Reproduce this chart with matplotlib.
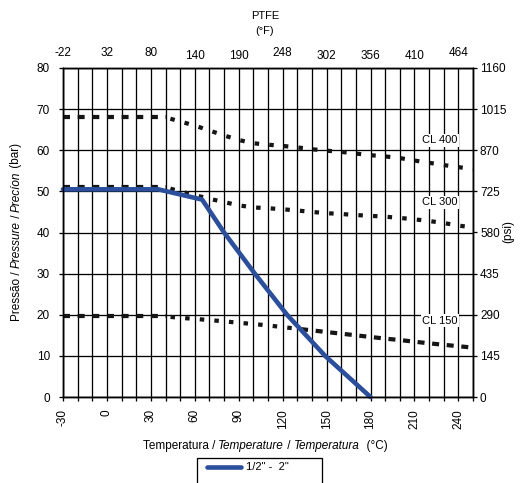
import matplotlib
matplotlib.use('Agg')
import matplotlib.pyplot as plt
from matplotlib.ticker import FixedLocator, MultipleLocator
from matplotlib.patches import Rectangle

plt.rcParams['font.family'] = ['Liberation Sans', 'DejaVu Sans']
plt.rcParams['lines.scale_dashes'] = False

# ---------------- data ----------------
temps_c = [-30, -20, -10, 0, 10, 20, 30, 40, 50, 60, 70, 80, 90, 100, 110,
           120, 130, 140, 150, 160, 170, 180, 190, 200, 210, 220, 230, 240, 250]
cl400 = [68.0, 68.0, 68.0, 68.0, 68.0, 68.0, 68.0, 68.0, 67.0, 66.0, 64.8, 63.6,
         62.5, 61.7, 61.35, 61.05, 60.7, 60.25, 59.9, 59.6, 59.2, 58.8, 58.5,
         58.1, 57.5, 56.95, 56.4, 55.9, 55.4]
cl300 = [51.0, 51.0, 51.0, 51.0, 51.0, 51.0, 51.0, 51.0, 50.0, 49.1, 48.2, 47.4,
         46.6, 46.1, 45.9, 45.65, 45.35, 45.0, 44.7, 44.5, 44.25, 44.05, 43.85,
         43.55, 43.2, 42.8, 42.3, 41.7, 41.2]
cl150 = [19.6, 19.6, 19.6, 19.6, 19.6, 19.6, 19.6, 19.6, 19.25, 19.0, 18.7, 18.4,
         18.05, 17.75, 17.4, 17.0, 16.6, 16.2, 15.8, 15.4, 15.0, 14.6, 14.2,
         13.85, 13.45, 13.05, 12.7, 12.35, 12.0]
series_names = ['CL 400', 'CL 300', 'CL 150']

blue_t = [-30, 35, 65, 80, 101, 123, 149, 180]
blue_p = [50.5, 50.5, 48.0, 40.0, 30.0, 20.0, 10.0, 0.0]
legend_label = '1/2" -  2"'

x_ticks_c = [-30, 0, 30, 60, 90, 120, 150, 180, 210, 240]
x_labels_f = ['-22', '32', '80', '140', '190', '248', '302', '356', '410', '464']
y_ticks_bar = [0, 10, 20, 30, 40, 50, 60, 70, 80]
y_labels_psi = ['0', '145', '290', '435', '580', '725', '870', '1015', '1160']

title_lines = ['PTFE', '(°F)']
xlabel_parts = [('Temperatura / ', 'normal'), ('Temperature', 'italic'),
                (' / ', 'normal'), ('Temperatura', 'italic'),
                ('  (°C)', 'normal')]
ylabel_parts = [('Pressão / ', 'normal'), ('Pressure', 'italic'),
                (' / ', 'normal'), ('Precíon', 'italic'),
                (' (bar)', 'normal')]
ylabel_right = '(psi)'

# ---------------- layout helpers ----------------
W, H, DPI = 531, 483, 100
FS = 8.5


def pt(v):
    return v * 72.0 / DPI


fig = plt.figure(figsize=(W / DPI, H / DPI), dpi=DPI)
fig.patch.set_facecolor('white')
renderer = fig.canvas.get_renderer()

L, R, T, B = 63, 473, 68, 397
ax = fig.add_axes([L / W, 1 - B / H, (R - L) / W, (B - T) / H])
ax.set_xlim(-30, 250)
ax.set_ylim(0, 80)

pxc = (R - L) / 280.0  # px per degC

# line style segments: (t0, t1, on_px, off_px, first_mark_center_offset_degC)
flat_seg = (-30, 40, 7.0, 7.65, None)
dot_seg = (40, 250, 4.5, 14.65 - 4.5, 5)
styles = {
    'CL 400': [flat_seg, dot_seg],
    'CL 300': [flat_seg, dot_seg],
    'CL 150': [flat_seg, (40, 130, 4.5, 10.15, 5), (130, 250, 7.0, 7.65, 5)],
}
black = '#151515'

for name, vals in zip(series_names, [cl400, cl300, cl150]):
    for (t0, t1, on, off, c) in styles[name]:
        xs = [t for t in temps_c if t0 <= t <= t1]
        ys = [v for t, v in zip(temps_c, vals) if t0 <= t <= t1]
        if c is None:
            offset = 0.0
        else:
            start = c * pxc - on / 2.0
            offset = on + off - start
        ax.plot(xs, ys, color=black, lw=pt(4.2),
                linestyle=(pt(offset), (pt(on), pt(off))),
                dash_capstyle='butt', zorder=3)

blue_line, = ax.plot(blue_t, blue_p, color='#2b4f9b', lw=pt(4.6),
                     solid_capstyle='round', solid_joinstyle='round',
                     zorder=5, clip_on=False)

# CL labels
lab_pos = [(227.5, 62.4), (227.5, 47.3), (227.5, 18.6)]
for name, (lx, ly) in zip(series_names, lab_pos):
    ax.text(lx, ly, name, ha='center', va='center', fontsize=8,
            bbox=dict(fc='white', ec='none', pad=1.0), zorder=4)

# grid & ticks
ax.xaxis.set_major_locator(FixedLocator(x_ticks_c))
ax.xaxis.set_minor_locator(MultipleLocator(10))
ax.yaxis.set_major_locator(FixedLocator(y_ticks_bar))
ax.set_xticklabels([str(v) for v in x_ticks_c], rotation=90)
ax.set_axisbelow(True)
ax.grid(which='both', color='black', lw=pt(1.3))
ax.tick_params(which='both', direction='out', length=pt(4), width=pt(1.3),
               color='black', labelsize=FS)
ax.tick_params(axis='x', pad=pt(8))
ax.tick_params(axis='y', pad=pt(9))
for s in ax.spines.values():
    s.set_linewidth(pt(1.3))
    s.set_color('black')

axt = ax.twiny()
axt.set_xlim(ax.get_xlim())
axt.xaxis.set_major_locator(FixedLocator(x_ticks_c))
axt.set_xticklabels(x_labels_f)
axt.xaxis.set_minor_locator(FixedLocator([]))
axt.tick_params(length=0, pad=pt(7), labelsize=FS)
# a few upper labels sit slightly higher in the original
raised = {'-22', '32', '80', '248', '464'}
for tick, lab in zip(axt.xaxis.get_major_ticks(), x_labels_f):
    dy = 2.0 if lab in raised else -1.0
    tick.label2.set_y(1 + dy / (B - T))

axr = ax.twinx()
axr.set_ylim(ax.get_ylim())
axr.yaxis.set_major_locator(FixedLocator(y_ticks_bar))
axr.set_yticklabels(y_labels_psi)
axr.tick_params(direction='out', length=pt(4), width=pt(1.3), pad=pt(3),
                labelsize=FS)
for a in (axt, axr):
    for s in a.spines.values():
        s.set_linewidth(pt(1.3))
        s.set_color('black')


# ---------------- rich (mixed italic) labels ----------------
def text_width(s, style):
    t1 = fig.text(0, 0, 'X' + s + 'X', fontsize=FS, style=style)
    t2 = fig.text(0, 0, 'XX', fontsize=FS, style=style)
    w = (t1.get_window_extent(renderer).width
         - t2.get_window_extent(renderer).width)
    t1.remove()
    t2.remove()
    return w


def rich_label(parts, cx, cy, vertical):
    widths = [text_width(s, st) for s, st in parts]
    total = sum(widths)
    pos = -total / 2.0
    for (s, st), w in zip(parts, widths):
        if vertical:
            x, y = cx, H - cy + pos
            rot = 90
        else:
            x, y = cx + pos, H - cy
            rot = 0
        fig.text(x / W, y / H, s, fontsize=FS, style=st, rotation=rot,
                 rotation_mode='anchor', ha='left', va='baseline')
        pos += w


# baseline positions (px from top-left)
rich_label(xlabel_parts, 265, 449, vertical=False)
rich_label(ylabel_parts, 19.5, 232, vertical=True)

fig.text(265 / W, 1 - 16 / H, title_lines[0], ha='center', va='center',
         fontsize=8)
fig.text(265 / W, 1 - 31 / H, title_lines[1], ha='center', va='center',
         fontsize=8)
fig.text(508 / W, 1 - 232 / H, ylabel_right, rotation=90, ha='center',
         va='center', fontsize=FS)

# legend
leg = fig.legend([blue_line], [legend_label], loc='upper left',
                 bbox_to_anchor=(203 / W, 1 - 458 / H), frameon=False,
                 fontsize=8, handlelength=3.0, handletextpad=0.45,
                 borderpad=0.4, borderaxespad=0)
rect = Rectangle((197 / W, 1 - 495 / H), 125 / W, 37 / H,
                 transform=fig.transFigure, fill=False, ec='black',
                 lw=pt(1.3))
fig.add_artist(rect)

fig.savefig('out.png', dpi=DPI, facecolor='white')
